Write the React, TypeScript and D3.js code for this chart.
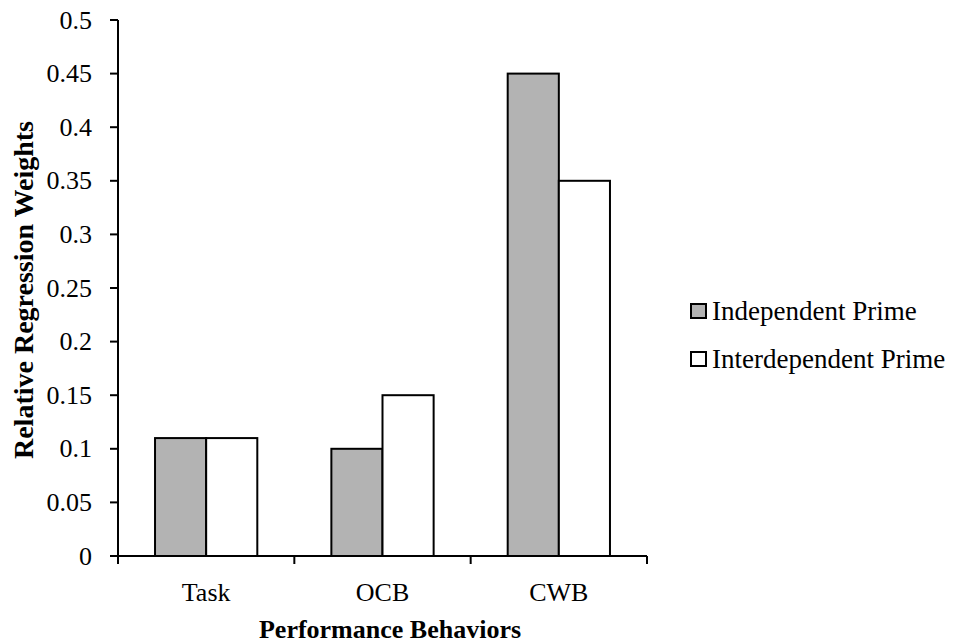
import React from "react";
import * as d3 from "d3";

const WIDTH = 958;
const HEIGHT = 644;

const categories = ["Task", "OCB", "CWB"];
const seriesNames = ["Independent Prime", "Interdependent Prime"];
const independentValues = [0.11, 0.1, 0.45];
const interdependentValues = [0.11, 0.15, 0.35];
const yTicks = [0, 0.05, 0.1, 0.15, 0.2, 0.25, 0.3, 0.35, 0.4, 0.45, 0.5];
const colors = ["#b3b3b3", "#ffffff"];

const FONT = "'Liberation Serif', 'Times New Roman', serif";

export default function App() {
  const margin = { top: 20, right: 311, bottom: 88, left: 118 };
  const plotW = WIDTH - margin.left - margin.right;
  const plotH = HEIGHT - margin.top - margin.bottom;

  const x0 = d3.scaleBand().domain(categories).range([0, plotW]).padding(0);
  const bw = x0.bandwidth();
  const x1 = d3
    .scaleBand()
    .domain(seriesNames)
    .range([bw * 0.21, bw * 0.79])
    .padding(0);
  const y = d3.scaleLinear().domain([0, 0.5]).range([plotH, 0]);

  const values = [independentValues, interdependentValues];

  const boundaries = [...categories.map((c) => x0(c) as number), plotW];

  return (
    <svg
      width={WIDTH}
      height={HEIGHT}
      style={{ position: "absolute", left: 0, top: 0, background: "#fff" }}
    >
      <g transform={`translate(${margin.left},${margin.top})`}>
        {/* bars */}
        {categories.map((c, i) => (
          <g key={c} transform={`translate(${x0(c)},0)`}>
            {seriesNames.map((s, j) => (
              <rect
                key={s}
                x={x1(s)}
                y={y(values[j][i])}
                width={x1.bandwidth()}
                height={plotH - y(values[j][i])}
                fill={colors[j]}
                stroke="#000"
                strokeWidth={2}
              />
            ))}
          </g>
        ))}

        {/* y axis */}
        <line x1={0} x2={0} y1={0} y2={plotH} stroke="#000" strokeWidth={2} />
        {yTicks.map((t) => (
          <g key={t} transform={`translate(0,${y(t)})`}>
            <line x1={-8} x2={0} stroke="#000" strokeWidth={2} />
            <text
              x={-26}
              dy="0.33em"
              textAnchor="end"
              fontFamily={FONT}
              fontSize={26}
              fill="#000"
            >
              {t}
            </text>
          </g>
        ))}

        {/* x axis */}
        <line x1={0} x2={plotW} y1={plotH} y2={plotH} stroke="#000" strokeWidth={2} />
        {boundaries.map((b, i) => (
          <line
            key={i}
            x1={b}
            x2={b}
            y1={plotH}
            y2={plotH + 8}
            stroke="#000"
            strokeWidth={2}
          />
        ))}
        {categories.map((c) => (
          <text
            key={c}
            x={(x0(c) as number) + bw / 2}
            y={plotH + 45}
            textAnchor="middle"
            fontFamily={FONT}
            fontSize={26}
            fill="#000"
          >
            {c}
          </text>
        ))}
      </g>

      {/* axis titles */}
      <text
        x={390}
        y={638}
        textAnchor="middle"
        fontFamily={FONT}
        fontSize={26}
        fontWeight="bold"
        fill="#000"
      >
        Performance Behaviors
      </text>
      <text
        transform="translate(33,290) rotate(-90)"
        textAnchor="middle"
        fontFamily={FONT}
        fontSize={28}
        fontWeight="bold"
        fill="#000"
      >
        Relative Regression Weights
      </text>

      {/* legend */}
      {seriesNames.map((s, j) => (
        <g key={s} transform={`translate(691,${304 + j * 48})`}>
          <rect width={15} height={14} fill={colors[j]} stroke="#000" strokeWidth={2} />
          <text x={21} y={16} fontFamily={FONT} fontSize={27} fill="#000">
            {s}
          </text>
        </g>
      ))}
    </svg>
  );
}
